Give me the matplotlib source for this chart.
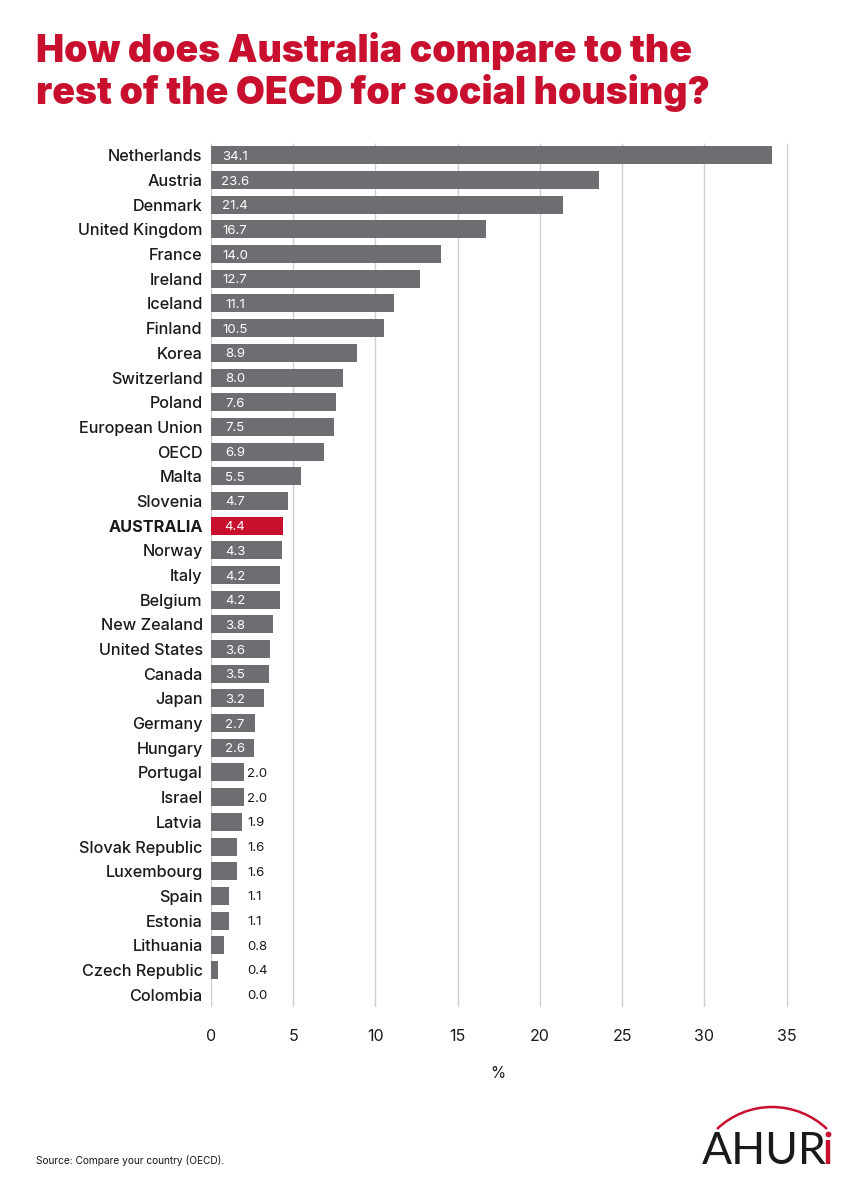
import matplotlib
matplotlib.use('Agg')
import matplotlib.pyplot as plt
from matplotlib.patches import Arc

countries = ['Netherlands', 'Austria', 'Denmark', 'United Kingdom', 'France', 'Ireland', 'Iceland',
             'Finland', 'Korea', 'Switzerland', 'Poland', 'European Union', 'OECD', 'Malta', 'Slovenia',
             'AUSTRALIA', 'Norway', 'Italy', 'Belgium', 'New Zealand', 'United States', 'Canada', 'Japan',
             'Germany', 'Hungary', 'Portugal', 'Israel', 'Latvia', 'Slovak Republic', 'Luxembourg', 'Spain',
             'Estonia', 'Lithuania', 'Czech Republic', 'Colombia']
values = [34.1, 23.6, 21.4, 16.7, 14.0, 12.7, 11.1, 10.5, 8.9, 8.0, 7.6, 7.5, 6.9, 5.5, 4.7, 4.4, 4.3, 4.2,
          4.2, 3.8, 3.6, 3.5, 3.2, 2.7, 2.6, 2.0, 2.0, 1.9, 1.6, 1.6, 1.1, 1.1, 0.8, 0.4, 0.0]
xticks = [0, 5, 10, 15, 20, 25, 30, 35]

GREY = '#6d6e71'
RED = '#c8102e'
INK = '#1a1a1a'
W, H = 867, 1200

plt.rcParams['font.family'] = ['Inter', 'DejaVu Sans']

fig = plt.figure(figsize=(W / 100, H / 100), dpi=100, facecolor='white')

# axes placed in pixels : 0 at x=211, 35 at x=786.5
left, right, top, bottom = 211, 800, 143, 1007
ax = fig.add_axes([left / W, 1 - bottom / H, (right - left) / W, (bottom - top) / H])
ppu = (786.5 - 211) / 35
ax.set_xlim(0, (right - left) / ppu)
ax.set_ylim(len(values) - 0.5, -0.5)

colors = [RED if c == 'AUSTRALIA' else GREY for c in countries]
ax.barh(range(len(values)), values, height=0.73, color=colors, zorder=3)
ax.vlines(xticks, -0.5, len(values) - 0.5, color='#d0d0d0', linewidth=1.0, zorder=1)

for s in ax.spines.values():
    s.set_visible(False)

ax.set_xticks(xticks)
ax.set_xticklabels(xticks, fontsize=11.5, color=INK)
ax.tick_params(axis='x', length=0, pad=16)
ax.set_yticks(range(len(values)))
ax.set_yticklabels(countries, fontsize=11.7, color=INK, fontweight=500)
ax.tick_params(axis='y', length=0, pad=6)
ax.get_yticklabels()[countries.index('AUSTRALIA')].set_fontweight('bold')

# labels inside the bar if it is long enough, after it if not
for i, v in enumerate(values):
    if v >= 2.6:
        ax.text(1.46, i, f'{v:.1f}', color='white', fontsize=9.5, ha='center', va='center_baseline', zorder=4)
    else:
        ax.text(2.19, i, f'{v:.1f}', color=INK, fontsize=9.5, ha='left', va='center_baseline', zorder=4)

# overlay in pixels for title, source and logo
ov = fig.add_axes([0, 0, 1, 1], facecolor='none')
ov.set_xlim(0, W)
ov.set_ylim(H, 0)
ov.axis('off')

ov.text(36, 51, 'How does Australia compare to the', fontsize=27, fontweight=900, color=RED,
        family=['Inter', 'DejaVu Sans'], va='center')
ov.text(36, 93, 'rest of the OECD for social housing?', fontsize=27, fontweight=900, color=RED,
        family=['Inter', 'DejaVu Sans'], va='center')
ov.text(498, 1073, '%', fontsize=11, color=INK, ha='center', va='center')
ov.text(36, 1160, 'Source: Compare your country (OECD).', fontsize=7.3, color=INK, va='center')

# logo
ov.text(702, 1164, 'AHUR', fontsize=32, color=INK, family=['Lato', 'DejaVu Sans'], va='baseline')
ov.add_patch(Arc((772, 1186.75), 159.5, 159.5, theta1=226.4, theta2=313.6, color=RED, linewidth=1.8))
ov.plot([828, 828], [1140, 1164], color=RED, linewidth=3.2, solid_capstyle='butt')
ov.plot([828], [1134], 'o', color=RED, markersize=4.2, markeredgewidth=0)

fig.savefig('out.png', dpi=100)
